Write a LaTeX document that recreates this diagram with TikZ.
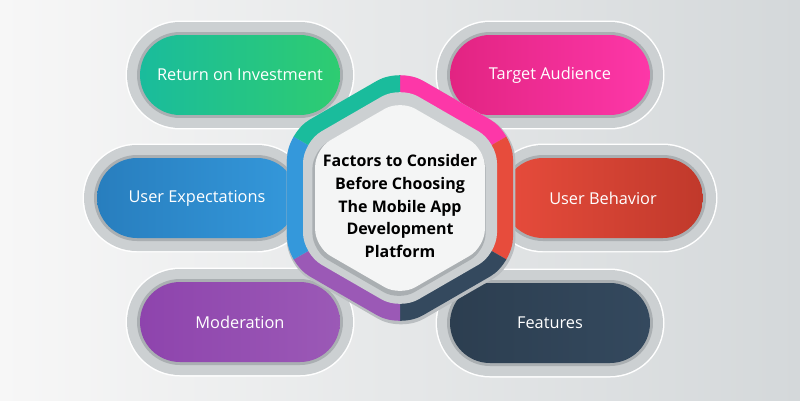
\documentclass[tikz,border=0pt]{standalone}
\usepackage{fontspec}
\setmainfont{Open Sans}
\usetikzlibrary{calc}
\definecolor{bgl}{RGB}{247,247,247}
\definecolor{bgr}{RGB}{212,216,218}
\definecolor{ringc}{RGB}{204,208,210}
\definecolor{ringd}{RGB}{170,175,178}
\definecolor{hexsh}{RGB}{186,190,193}
\definecolor{hexw}{RGB}{244,245,245}
\definecolor{greenl}{RGB}{26,188,156}
\definecolor{greenr}{RGB}{46,204,113}
\definecolor{pinkl}{RGB}{226,36,130}
\definecolor{pinkr}{RGB}{253,55,168}
\definecolor{bluel}{RGB}{40,126,190}
\definecolor{bluer}{RGB}{52,152,219}
\definecolor{redl}{RGB}{231,76,60}
\definecolor{redr}{RGB}{192,57,43}
\definecolor{purpl}{RGB}{142,68,173}
\definecolor{purpr}{RGB}{155,89,182}
\definecolor{navyl}{RGB}{44,62,80}
\definecolor{navyr}{RGB}{52,73,94}
\newcommand{\hexpath}[1]{($(c)+(-90:#1)$) -- ($(c)+(-30:#1)$) -- ($(c)+(30:#1)$)
  -- ($(c)+(90:#1)$) -- ($(c)+(150:#1)$) -- ($(c)+(210:#1)$) -- cycle}

\begin{document}
\begin{tikzpicture}[
  x=0.02cm, y=-0.02cm,
  pill/.style={minimum width=4cm, minimum height=1.6cm, rounded corners=0.8cm,
               inner sep=0pt, text=white, font=\fontsize{9.3}{11}\selectfont,
               preaction={draw=white, line width=0.58cm},
               preaction={draw=ringc, line width=0.52cm},
               preaction={draw=ringd, line width=0.12cm}},
  title/.style={align=center, font=\fontsize{9.1}{13}\selectfont\bfseries},
]
\useasboundingbox (0,0) rectangle (800,400);
\fill[left color=bgl, right color=bgr] (0,0) rectangle (800,400);

% ---------- six factor pills ----------
\node[pill, left color=greenl, right color=greenr] (roi) at (240,75)
  {Return on Investment};
\node[pill, left color=pinkl, right color=pinkr] (tgt) at (550,75)
  {Target Audience};
\node[pill, left color=bluel, right color=bluer] (uexp) at (197,198)
  {User Expectations};
\node[pill, left color=redl, right color=redr] (ubeh) at (603,198)
  {User Behavior};
\node[pill, left color=purpl, right color=purpr] (mod) at (240,322)
  {Moderation};
\node[pill, left color=navyl, right color=navyr] (feat) at (550,323)
  {Features};

% ---------- centre hexagon ----------
\coordinate (c) at (401,200);
\fill[hexsh, rounded corners=15pt] \hexpath{132};
\coordinate (c) at (400,198);
\begin{scope}
  \clip[rounded corners=15pt] \hexpath{130.5};
  \foreach \a/\col in {-90/pinkr, -30/redl, 30/navyr, 90/purpr, 150/bluer, 210/greenl}
    \fill[\col] (c) -- ($(c)+(\a:150)$) -- ($(c)+({\a+60}:150)$) -- cycle;
\end{scope}
\fill[ringc, rounded corners=12pt] \hexpath{112};
\coordinate (c) at (399,201);
\fill[ringd, rounded corners=10pt] \hexpath{100};
\coordinate (c) at (400,198);
\fill[hexw, rounded corners=10pt] \hexpath{98};

\node[title] (head) at (400,206)
  {Factors to Consider\\Before Choosing\\The Mobile App\\Development\\Platform};

\end{tikzpicture}
\end{document}
